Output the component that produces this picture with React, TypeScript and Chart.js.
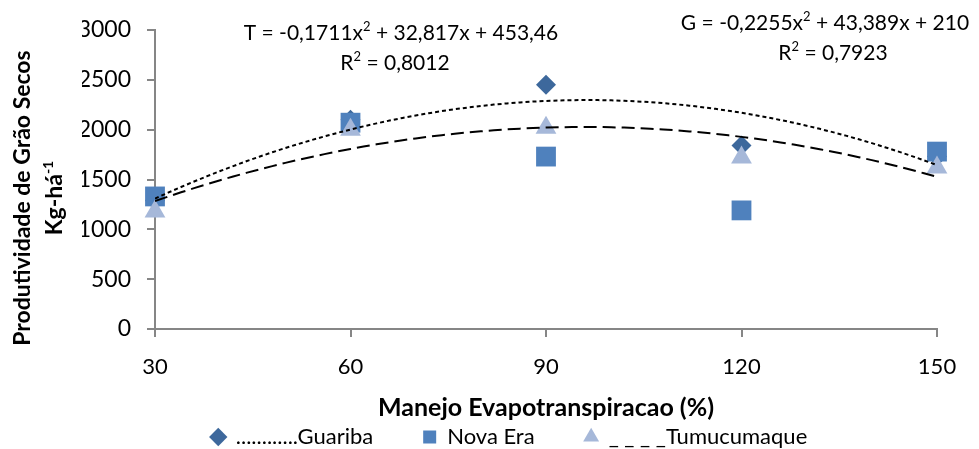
import React, { useEffect, useRef } from "react";
import { Chart, registerables } from "chart.js";

Chart.register(...registerables);

// ---- data ----
const xValues = [30, 60, 90, 120, 150];
const guariba = [1290, 2100, 2450, 1840, 1730];
const novaEra = [1330, 2070, 1730, 1190, 1780];
const tumucumaque = [1180, 2000, 2020, 1720, 1620];

// quadratic trendline coefficients [a, b, c] (a*x^2 + b*x + c), as printed on the chart
const guaribaFit = [-0.2255, 43.389, 210];
const tumucumaqueFit = [-0.1711, 32.817, 453.46];

const seriesLabels = ["............Guariba", "Nova Era", "_ _ _ _Tumucumaque"];
const xTitle = "Manejo Evapotranspiracao (%)";
const yTitleLine1 = "Produtividade de Grão Secos";
const yTitleLine2 = ["Kg-há", "-1"];
const eqT = ["T = -0,1711x", "2", " + 32,817x + 453,46"];
const r2T = ["R", "2", " = 0,8012"];
const eqG = ["G = -0,2255x", "2", " + 43,389x + 210"];
const r2G = ["R", "2", " = 0,7923"];

const FONT = "Lato, 'Open Sans', sans-serif";

function trendPoints(coef: number[]) {
  const pts: { x: number; y: number }[] = [];
  for (let x = xValues[0]; x <= xValues[xValues.length - 1]; x += 2) {
    pts.push({ x, y: coef[0] * x * x + coef[1] * x + coef[2] });
  }
  return pts;
}

// parts alternate: normal, superscript, normal, ...
function drawRich(
  ctx: CanvasRenderingContext2D,
  parts: string[],
  cx: number,
  cy: number,
  size: number,
  weight: string
) {
  const supSize = Math.round(size * 0.62);
  const fonts = parts.map((_, i) =>
    i % 2 === 1 ? `${weight} ${supSize}px ${FONT}` : `${weight} ${size}px ${FONT}`
  );
  let total = 0;
  const widths = parts.map((p, i) => {
    ctx.font = fonts[i];
    const w = ctx.measureText(p).width;
    total += w;
    return w;
  });
  let x = cx - total / 2;
  ctx.textBaseline = "middle";
  ctx.textAlign = "left";
  parts.forEach((p, i) => {
    ctx.font = fonts[i];
    const y = i % 2 === 1 ? cy - size * 0.3 : cy;
    ctx.fillText(p, x, y);
    x += widths[i];
  });
}

const textPlugin = {
  id: "textPlugin",
  afterDraw(chart: any) {
    const ctx: CanvasRenderingContext2D = chart.ctx;
    ctx.save();
    ctx.fillStyle = "#000000";
    drawRich(ctx, eqT, 401, 33, 21, "normal");
    drawRich(ctx, r2T, 395, 63, 21, "normal");
    drawRich(ctx, eqG, 825, 23, 21, "normal");
    drawRich(ctx, r2G, 833, 53, 21, "normal");
    // y axis title (rotated, two lines)
    ctx.save();
    ctx.translate(23, 198);
    ctx.rotate(-Math.PI / 2);
    drawRich(ctx, [yTitleLine1], 0, 0, 23, "bold");
    ctx.restore();
    ctx.save();
    ctx.translate(55, 198);
    ctx.rotate(-Math.PI / 2);
    drawRich(ctx, yTitleLine2, 0, 0, 23, "bold");
    ctx.restore();
    ctx.restore();
  },
};

export default function App() {
  const ref = useRef<HTMLCanvasElement | null>(null);

  useEffect(() => {
    if (!ref.current) return;
    Chart.defaults.font.family = FONT;
    Chart.defaults.color = "#000000";
    const axisColor = "#868686";
    const chart = new Chart(ref.current, {
      type: "scatter",
      data: {
        datasets: [
          {
            label: seriesLabels[0],
            data: xValues.map((x, i) => ({ x, y: guariba[i] })),
            pointStyle: "rectRot",
            pointRadius: 10,
            pointHoverRadius: 10,
            backgroundColor: "#3D689C",
            borderColor: "#3D689C",
            borderWidth: 0,
            order: 3,
            clip: false,
          },
          {
            label: seriesLabels[1],
            data: xValues.map((x, i) => ({ x, y: novaEra[i] })),
            pointStyle: "rect",
            pointRadius: 14,
            pointHoverRadius: 14,
            backgroundColor: "#4F81BD",
            borderColor: "#4F81BD",
            borderWidth: 0,
            order: 2,
            clip: false,
          },
          {
            label: seriesLabels[2],
            data: xValues.map((x, i) => ({ x, y: tumucumaque[i] })),
            pointStyle: "triangle",
            pointRadius: 12,
            pointHoverRadius: 12,
            backgroundColor: "#A6B8D9",
            borderColor: "#A6B8D9",
            borderWidth: 0,
            order: 1,
            clip: false,
          },
          {
            label: "trendG",
            data: trendPoints(guaribaFit),
            showLine: true,
            pointRadius: 0,
            borderColor: "#000000",
            borderWidth: 2,
            borderDash: [4, 3],
            fill: false,
            order: 0,
          },
          {
            label: "trendT",
            data: trendPoints(tumucumaqueFit),
            showLine: true,
            pointRadius: 0,
            borderColor: "#000000",
            borderWidth: 2,
            borderDash: [13, 6],
            fill: false,
            order: 0,
          },
        ],
      },
      options: {
        responsive: false,
        animation: false,
        layout: { padding: { top: 30, right: 42, left: 82, bottom: -9 } },
        scales: {
          x: {
            type: "linear",
            min: 30,
            max: 150,
            ticks: {
              stepSize: 30,
              font: { size: 22 },
              padding: 17,
              color: "#000",
              callback: (v: any) => String(v),
            },
            grid: {
              drawOnChartArea: false,
              drawTicks: true,
              tickLength: 8,
              color: axisColor,
              lineWidth: 2,
            },
            border: { color: axisColor, width: 2 },
            title: {
              display: true,
              text: xTitle,
              font: { size: 25, weight: "bold" },
              padding: { top: 0, bottom: -47 },
              color: "#000",
            },
            afterFit(scale: any) {
              scale.height = 47;
            },
          },
          y: {
            min: 0,
            max: 3000,
            ticks: {
              stepSize: 500,
              font: { size: 23 },
              padding: 16,
              color: "#000",
              callback: (v: any) => String(v),
            },
            grid: {
              drawOnChartArea: false,
              drawTicks: true,
              tickLength: 8,
              color: axisColor,
              lineWidth: 2,
            },
            border: { color: axisColor, width: 2 },
            afterFit(scale: any) {
              scale.width = 73;
            },
          },
        },
        plugins: {
          legend: {
            position: "bottom",
            labels: {
              usePointStyle: true,
              boxWidth: 13,
              boxHeight: 13,
              padding: 50,
              font: { size: 22 },
              color: "#000",
              filter: (item: any) => item.datasetIndex < 3,
              sort: (a: any, b: any) => a.datasetIndex - b.datasetIndex,
            },
          },
          tooltip: { enabled: false },
        },
      },
      plugins: [textPlugin],
    } as any);
    return () => chart.destroy();
  }, []);

  return (
    <div style={{ position: "fixed", left: 0, top: 0, width: 979, height: 449, background: "#fff" }}>
      <canvas ref={ref} width={979} height={449} style={{ display: "block" }} />
    </div>
  );
}
